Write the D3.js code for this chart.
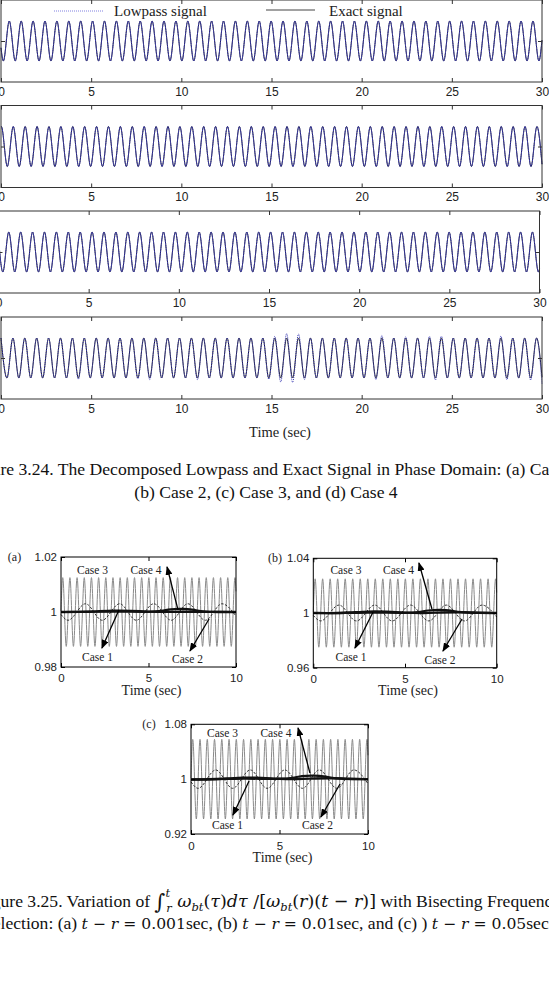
<!DOCTYPE html>
<html>
<head>
<meta charset="utf-8">
<script src="https://cdn.jsdelivr.net/npm/d3@7"></script>
<style>
body{margin:0;background:#fff;}
svg{display:block;}
</style>
</head>
<body>
<script>
// ---------- Figure 3.24 : four phase-domain panels (time 0..30 s) ----------
const topXTicks = [0, 5, 10, 15, 20, 25, 30];
const legendLabels = ["Lowpass signal", "Exact signal"];

// extremum times (alternating peak / trough)
const p1Ext = [0.13,0.46,0.79,1.12,1.45,1.78,2.11,2.44,2.77,3.10,
  3.43,3.76,4.09,4.42,4.75,5.08,5.41,5.74,6.07,6.40,
  6.73,7.06,7.39,7.72,8.05,8.38,8.71,9.04,9.37,9.70,
  10.03,10.36,10.69,11.02,11.35,11.68,12.01,12.34,12.67,13.00,
  13.33,13.66,13.99,14.32,14.65,14.98,15.31,15.64,15.97,16.30,
  16.63,16.96,17.29,17.62,17.95,18.28,18.61,18.94,19.27,19.60,
  19.93,20.26,20.59,20.92,21.25,21.58,21.91,22.24,22.57,22.90,
  23.23,23.56,23.89,24.22,24.55,24.88,25.21,25.54,25.87,26.20,
  26.53,26.86,27.19,27.52,27.85,28.18,28.51,28.84,29.17,29.50,29.83];
const p2Ext = [0.02,0.35,0.68,1.01,1.34,1.67,2.00,2.33,2.66,2.99,
  3.32,3.65,3.98,4.31,4.64,4.97,5.30,5.63,5.96,6.29,
  6.62,6.95,7.28,7.61,7.94,8.27,8.60,8.93,9.26,9.59,
  9.92,10.25,10.58,10.91,11.24,11.57,11.90,12.23,12.56,12.89,
  13.22,13.55,13.88,14.21,14.54,14.87,15.20,15.53,15.86,16.19,
  16.52,16.85,17.18,17.51,17.84,18.17,18.50,18.83,19.16,19.49,
  19.82,20.15,20.48,20.81,21.14,21.47,21.80,22.13,22.46,22.79,
  23.12,23.45,23.78,24.11,24.44,24.77,25.10,25.43,25.76,26.09,
  26.42,26.75,27.08,27.41,27.74,28.07,28.40,28.73,29.06,29.39,29.72];
const p3Ext = [0.24,0.57,0.90,1.23,1.56,1.89,2.22,2.55,2.88,3.21,
  3.54,3.87,4.20,4.53,4.86,5.19,5.52,5.85,6.18,6.51,
  6.84,7.17,7.50,7.83,8.16,8.49,8.82,9.15,9.48,9.81,
  10.14,10.47,10.80,11.13,11.46,11.79,12.12,12.45,12.78,13.11,
  13.44,13.77,14.10,14.43,14.76,15.09,15.42,15.75,16.08,16.41,
  16.74,17.07,17.40,17.73,18.06,18.39,18.72,19.05,19.38,19.71,
  20.04,20.37,20.70,21.03,21.36,21.69,22.02,22.35,22.68,23.01,
  23.34,23.67,24.00,24.33,24.66,24.99,25.32,25.65,25.98,26.31,
  26.64,26.97,27.30,27.63,27.96,28.29,28.62,28.95,29.28,29.61,29.94];
const p4Ext = [0.00,0.33,0.66,0.99,1.32,1.65,1.98,2.31,2.64,2.97,
  3.30,3.63,3.96,4.29,4.62,4.95,5.28,5.61,5.94,6.27,
  6.60,6.93,7.26,7.59,7.92,8.25,8.58,8.91,9.24,9.57,
  9.90,10.23,10.56,10.89,11.22,11.55,11.88,12.21,12.54,12.87,
  13.20,13.53,13.86,14.19,14.52,14.85,15.18,15.51,15.84,16.17,
  16.50,16.83,17.16,17.49,17.82,18.15,18.48,18.81,19.14,19.47,
  19.80,20.13,20.46,20.79,21.12,21.45,21.78,22.11,22.44,22.77,
  23.10,23.43,23.76,24.09,24.42,24.75,25.08,25.41,25.74,26.07,
  26.40,26.73,27.06,27.39,27.72,28.05,28.38,28.71,29.04,29.37,29.70];
// first extremum: +1 peak, -1 trough
const panelFirstSign = [-1, 1, -1, 1];
// signal value at t=0 and t=30 (null = starts on an extremum)
const panelEdges = [[-0.34, 0.05], [1.0, -0.89], [0.66, -0.84], [null, -0.96]];
// lowpass amplitude in panel (d), relative to the exact signal
const p4LowAmp = [1,1,1,1,1,1,1,1,1,1,
  1,1,1,1.06,1,1,1,1,1,1,
  1,1,1,1.05,1,1.08,1,1,1,1,
  1,1,1,1.08,1,1,1,1,1,1,
  1,1,1,1,1,1.06,1.08,1.2,1.22,1.22,
  1.2,1.08,1,1,1,1,1,1,1,1,
  1,1,1,1.08,1.12,1,1,1,1.06,1,
  1,1,1.08,1.1,1.1,1,1,1,1,1,
  1,1,1,1,1.1,1.08,1,1,1,1.1,1];
const p4LowEdges = [null, -1.3];

// ---------- Figure 3.25 : three small panels (time 0..10 s) ----------
const subXTicks = [0, 5, 10];
const subYTicks = [[0.98, 1, 1.02], [0.96, 1, 1.04], [0.92, 1, 1.08]];
const subTags = ["(a)", "(b)", "(c)"];
const caseNames = ["Case 1", "Case 2", "Case 3", "Case 4"];

// Case 3: fast oscillation (alternating peak / trough times)
const case3Ext = [0.10,0.30,0.51,0.71,0.92,1.12,1.33,1.53,1.74,1.94,
  2.15,2.35,2.56,2.76,2.97,3.17,3.38,3.58,3.79,3.99,
  4.20,4.40,4.61,4.81,5.02,5.22,5.43,5.63,5.84,6.04,
  6.25,6.45,6.66,6.86,7.07,7.27,7.48,7.68,7.89,8.09,
  8.30,8.50,8.71,8.91,9.12,9.32,9.53,9.73,9.94];
const case3Edges = [0.03, 0.6];
const case3Amp = [0.0125, 0.025, 0.058];
// Case 2: slow dashed oscillation (trough first)
const case2Ext = [0.4, 1.4, 2.35, 3.35, 4.3, 5.3, 6.3, 7.25, 8.25, 9.2];
const case2Edges = [-0.3, -0.5];
const case2Amp = [0.003, 0.0058, 0.0134];
// Case 1 and Case 4: thick lines near 1
const case1T = [0,1,2,3,4,5,6,7,8,9,10];
const case1A = [1.0000,1.0000,1.0002,1.0005,1.0004,1.0001,1.0000,1.0001,1.0001,1.0000,1.0000];
const case1B = [1.0000,0.9998,1.0003,1.0012,1.0010,1.0002,0.9999,1.0004,1.0006,1.0002,1.0000];
const case1C = [0.9995,0.9998,1.0008,1.0022,1.0020,1.0005,1.0000,1.0010,1.0015,1.0005,1.0000];
const case4T = [0,1,2,3,4,5,5.8,6.2,7.0,7.5,8,9,10];
const case4A = [1,1,1.0001,1.0002,1.0001,1.0,1.0003,1.0011,1.0012,1.0009,1.0002,1.0,1.0];
const case4B = [1,0.9999,1.0001,1.0004,1.0002,1.0,1.0006,1.0020,1.0024,1.0018,1.0005,1.0,1.0];
const case4C = [0.9995,0.9998,1.0002,1.0008,1.0004,1.0,1.0015,1.0050,1.0055,1.0045,1.0010,1.0,1.0];
// annotation arrows [t from, value from, t to, value to] for Case 4, Case 1, Case 2
const arrowsA = [[6.69,1.0007,6.06,1.0164],[3.31,1.0007,2.34,0.9869],[8.46,0.99745,7.37,0.98582]];
const arrowsB = [[6.47,1.0029,5.76,1.0366],[3.26,1.0007,2.27,0.9744],[8.11,0.9956,7.07,0.9722]];
const arrowsC = [[6.72,1.009,6.05,1.0746],[3.28,0.9973,2.37,0.9477],[8.42,0.9929,7.34,0.9448]];
// label anchors [t, value] for Case 3, Case 4, Case 1, Case 2
const labelsA = [[1.8,1.0153],[4.86,1.0153],[2.09,0.9836],[7.23,0.9829]];
const labelsB = [[1.78,1.0314],[4.65,1.0314],[2.06,0.9678],[6.91,0.9656]];
const labelsC = [[1.78,1.0673],[4.8,1.0673],[2.06,0.9331],[7.15,0.9331]];

// ------------------------------------------------------------------
const W = 549, H = 991;
const sans = "'Liberation Sans', Arial, sans-serif";
const serif = "'Liberation Serif', 'Times New Roman', serif";
const mathFont = "'DejaVu Serif', serif";

const svg = d3.select("body").append("svg")
  .attr("width", W).attr("height", H)
  .style("background", "#fff");

const defs = svg.append("defs");
defs.append("marker").attr("id", "arr")
  .attr("markerUnits", "userSpaceOnUse")
  .attr("markerWidth", 9).attr("markerHeight", 7)
  .attr("refX", 8).attr("refY", 3.5).attr("orient", "auto")
  .append("path").attr("d", "M0,0L9,3.5L0,7z").attr("fill", "#000");

// extrema -> point list
function wavePoints(times, firstSign, amps, edges, t0, t1) {
  const pts = [];
  if (edges[0] !== null) pts.push([t0, edges[0]]);
  times.forEach(function(t, i) {
    const s = i % 2 === 0 ? firstSign : -firstSign;
    pts.push([t, s * (amps ? amps[i] : 1)]);
  });
  if (edges[1] !== null) pts.push([t1, edges[1]]);
  return pts;
}

// ---------- top figure ----------
const panelExt = [p1Ext, p2Ext, p3Ext, p4Ext];
const panelTops = [0, 105.5, 211, 317];
const panelShift = [0, 0, -2.5, 0];
const panelH = 82;

panelTops.forEach(function(top, i) {
  const x = d3.scaleLinear().domain([0, 30]).range([1 + panelShift[i], 542 + panelShift[i]]);
  const y = d3.scaleLinear().domain([-2.05, 2.05]).range([top + panelH, top]);
  const line = d3.line().x(d => x(d[0])).y(d => y(d[1])).curve(d3.curveMonotoneX);
  const g = svg.append("g");

  const exact = wavePoints(panelExt[i], panelFirstSign[i], null, panelEdges[i], 0, 30);
  const low = i === 3
    ? wavePoints(panelExt[i], panelFirstSign[i], p4LowAmp, p4LowEdges, 0, 30)
    : exact;

  g.append("path").attr("d", line(exact))
    .attr("fill", "none").attr("stroke", "#1a1a2a").attr("stroke-width", 1);
  g.append("path").attr("d", line(low))
    .attr("fill", "none").attr("stroke", "#3a3ab4").attr("stroke-width", 1)
    .attr("stroke-dasharray", i === 3 ? "1,1" : "1.5,0.6");

  // frame
  g.append("rect")
    .attr("x", x(0)).attr("y", top)
    .attr("width", x(30) - x(0)).attr("height", panelH)
    .attr("fill", "none").attr("stroke", "#333").attr("stroke-width", 1);

  const bottomAxis = g.append("g").attr("transform", `translate(0,${top + panelH})`)
    .call(d3.axisBottom(x).tickValues(topXTicks).tickSize(-4).tickPadding(5));
  const topAxis = g.append("g").attr("transform", `translate(0,${top})`)
    .call(d3.axisTop(x).tickValues(topXTicks).tickSize(-4).tickFormat(""));
  const leftAxis = g.append("g").attr("transform", `translate(${x(0)},0)`)
    .call(d3.axisLeft(y).tickValues([0]).tickSize(-4).tickFormat(""));
  const rightAxis = g.append("g").attr("transform", `translate(${x(30)},0)`)
    .call(d3.axisRight(y).tickValues([0]).tickSize(-4).tickFormat(""));
  [bottomAxis, topAxis, leftAxis, rightAxis].forEach(function(a) {
    a.select(".domain").remove();
    a.selectAll(".tick line").attr("stroke", "#333");
    a.selectAll("text").attr("font-family", sans).attr("font-size", 12).attr("fill", "#222");
  });

  if (i === 0) {
    // legend
    const lg = g.append("g");
    lg.append("line").attr("x1", 54).attr("x2", 103).attr("y1", 11).attr("y2", 11)
      .attr("stroke", "#8080e0").attr("stroke-width", 1).attr("stroke-dasharray", "1,1");
    lg.append("text").attr("x", 114).attr("y", 16).text(legendLabels[0])
      .attr("font-family", serif).attr("font-size", 15).attr("fill", "#222");
    lg.append("line").attr("x1", 266).attr("x2", 315).attr("y1", 10).attr("y2", 10)
      .attr("stroke", "#444").attr("stroke-width", 1);
    lg.append("text").attr("x", 329).attr("y", 16).text(legendLabels[1])
      .attr("font-family", serif).attr("font-size", 15).attr("fill", "#222");
  }
  if (i === 3) {
    g.append("text").attr("x", 280).attr("y", 437).attr("text-anchor", "middle")
      .attr("font-family", serif).attr("font-size", 14.5).attr("fill", "#222")
      .text("Time (sec)");
  }
});

// ---------- bottom figure ----------
const subs = [
  {x0: 61, x1: 236, y0: 557, y1: 667, tagX: 14.5, tickPad: 7, timeY: 695,
   c1: case1A, c4: case4A, arrows: arrowsA, labels: labelsA},
  {x0: 313.3, x1: 496.7, y0: 558.3, y1: 667.7, tagX: 275, tickPad: 7, timeY: 695,
   c1: case1B, c4: case4B, arrows: arrowsB, labels: labelsB},
  {x0: 191, x1: 368, y0: 724.3, y1: 834, tagX: 149, tickPad: 7.5, timeY: 862,
   c1: case1C, c4: case4C, arrows: arrowsC, labels: labelsC}
];

subs.forEach(function(s, k) {
  const yt = subYTicks[k];
  const x = d3.scaleLinear().domain([0, 10]).range([s.x0, s.x1]);
  const y = d3.scaleLinear().domain([yt[0], yt[2]]).range([s.y1, s.y0]);
  const line = d3.line().x(d => x(d[0])).y(d => y(d[1]));
  const g = svg.append("g");

  // Case 3
  const c3 = wavePoints(case3Ext, 1, null, case3Edges, 0, 10).map(d => [d[0], 1 + case3Amp[k] * d[1]]);
  g.append("path").attr("d", line.curve(d3.curveMonotoneX)(c3))
    .attr("fill", "none").attr("stroke", "#8a8a8a").attr("stroke-width", 1);
  // Case 2 dashed
  const c2 = wavePoints(case2Ext, -1, null, case2Edges, 0, 10).map(d => [d[0], 1 + case2Amp[k] * d[1]]);
  g.append("path").attr("d", line.curve(d3.curveMonotoneX)(c2))
    .attr("fill", "none").attr("stroke", "#333").attr("stroke-width", 1)
    .attr("stroke-dasharray", "2.5,1.5");
  // Case 1 and Case 4
  g.append("path").attr("d", line.curve(d3.curveBasis)(case1T.map((t, j) => [t, s.c1[j]])))
    .attr("fill", "none").attr("stroke", "#111").attr("stroke-width", 2.4);
  g.append("path").attr("d", line.curve(d3.curveBasis)(case4T.map((t, j) => [t, s.c4[j]])))
    .attr("fill", "none").attr("stroke", "#111").attr("stroke-width", 2.2);

  // frame
  g.append("rect").attr("x", s.x0).attr("y", s.y0)
    .attr("width", s.x1 - s.x0).attr("height", s.y1 - s.y0)
    .attr("fill", "none").attr("stroke", "#000").attr("stroke-width", 1);

  const fmt = v => (v === 1 ? "1" : v.toFixed(2));
  const axB = g.append("g").attr("transform", `translate(0,${s.y1})`)
    .call(d3.axisBottom(x).tickValues(subXTicks).tickSize(-4).tickPadding(s.tickPad));
  const axT = g.append("g").attr("transform", `translate(0,${s.y0})`)
    .call(d3.axisTop(x).tickValues(subXTicks).tickSize(-4).tickFormat(""));
  const axL = g.append("g").attr("transform", `translate(${s.x0},0)`)
    .call(d3.axisLeft(y).tickValues(yt).tickSize(-4).tickPadding(4).tickFormat(fmt));
  const axR = g.append("g").attr("transform", `translate(${s.x1},0)`)
    .call(d3.axisRight(y).tickValues(yt).tickSize(-4).tickFormat(""));
  [axB, axT, axL, axR].forEach(function(a) {
    a.select(".domain").remove();
    a.selectAll(".tick line").attr("stroke", "#000");
    a.selectAll("text").attr("font-family", sans).attr("font-size", 11.5).attr("fill", "#222");
  });

  g.append("text").attr("x", s.tagX).attr("y", s.y0 + 4).attr("text-anchor", "middle")
    .attr("font-family", serif).attr("font-size", 12).attr("fill", "#222").text(subTags[k]);
  g.append("text").attr("x", (s.x0 + s.x1) / 2 + 3).attr("y", s.timeY).attr("text-anchor", "middle")
    .attr("font-family", serif).attr("font-size", 14).attr("fill", "#222").text("Time (sec)");

  // annotations
  s.arrows.forEach(function(a) {
    g.append("line")
      .attr("x1", x(a[0])).attr("y1", y(a[1])).attr("x2", x(a[2])).attr("y2", y(a[3]))
      .attr("stroke", "#000").attr("stroke-width", 1.3).attr("marker-end", "url(#arr)");
  });
  const order = [caseNames[2], caseNames[3], caseNames[0], caseNames[1]];
  s.labels.forEach(function(l, j) {
    g.append("text").attr("x", x(l[0])).attr("y", y(l[1]) + 4).attr("text-anchor", "middle")
      .attr("font-family", serif).attr("font-size", 11.5).attr("fill", "#222").text(order[j]);
  });
});

// ---------- captions ----------
function rich(x, y, segs) {
  const t = svg.append("text").attr("x", x).attr("y", y)
    .attr("font-family", serif).attr("font-size", 17.6).attr("fill", "#111");
  segs.forEach(function(s) {
    const ts = t.append("tspan").text(s.t);
    if (s.m) ts.attr("font-family", mathFont).attr("font-size", s.m);
    if (s.i) ts.attr("font-style", "italic");
    if (s.fs) ts.attr("font-size", s.fs);
    if (s.dy) ts.attr("dy", s.dy);
    if (s.dx) ts.attr("dx", s.dx);
  });
  return t;
}
function prefixWidth(str) {
  const tmp = svg.append("text").attr("font-family", serif).attr("font-size", 17.6).text(str);
  const w = tmp.node().getComputedTextLength();
  tmp.remove();
  return w;
}

rich(-prefixWidth("Figu") + 0.5, 475,
  [{t: "Figure 3.24. The Decomposed Lowpass and Exact Signal in Phase Domain: (a) Case 1,"}]);
rich(0, 498, [{t: "(b) Case 2, (c) Case 3, and (d) Case 4"}])
  .attr("x", 266).attr("text-anchor", "middle");

const M1 = 17.5, M2 = 15.6, SB = 11.5;
rich(-prefixWidth("Fig") + 0.5, 907, [
  {t: "Figure 3.25. Variation of "},
  {t: "\u222B", m: 21, dy: 2},
  {t: "t", m: SB, i: true, dy: -12, dx: 0},
  {t: "r", m: SB, i: true, dy: 15, dx: -4},
  {t: " \u03C9", m: M1, i: true, dy: -5},
  {t: "bt", m: SB, i: true, dy: 4},
  {t: "(", m: M1, dy: -4}, {t: "\u03C4", m: M1, i: true}, {t: ")", m: M1},
  {t: "d", m: M1, i: true}, {t: "\u03C4", m: M1, i: true},
  {t: " /[", m: M1}, {t: "\u03C9", m: M1, i: true},
  {t: "bt", m: SB, i: true, dy: 4},
  {t: "(", m: M1, dy: -4}, {t: "r", m: M1, i: true}, {t: ")(", m: M1}, {t: "t", m: M1, i: true},
  {t: " \u2212 ", m: M1}, {t: "r", m: M1, i: true}, {t: ")]", m: M1},
  {t: " with Bisecting Frequency"}
]);
rich(-prefixWidth("Se") + 0.5, 929, [
  {t: "Selection: (a) "},
  {t: "t", m: M2, i: true}, {t: " \u2212 ", m: M2}, {t: "r", m: M2, i: true}, {t: " = 0.001", m: M2},
  {t: "sec, (b) "},
  {t: "t", m: M2, i: true}, {t: " \u2212 ", m: M2}, {t: "r", m: M2, i: true}, {t: " = 0.01", m: M2},
  {t: "sec, and (c) ) "},
  {t: "t", m: M2, i: true}, {t: " \u2212 ", m: M2}, {t: "r", m: M2, i: true}, {t: " = 0.05", m: M2},
  {t: "sec"}
]);
</script>
</body>
</html>
